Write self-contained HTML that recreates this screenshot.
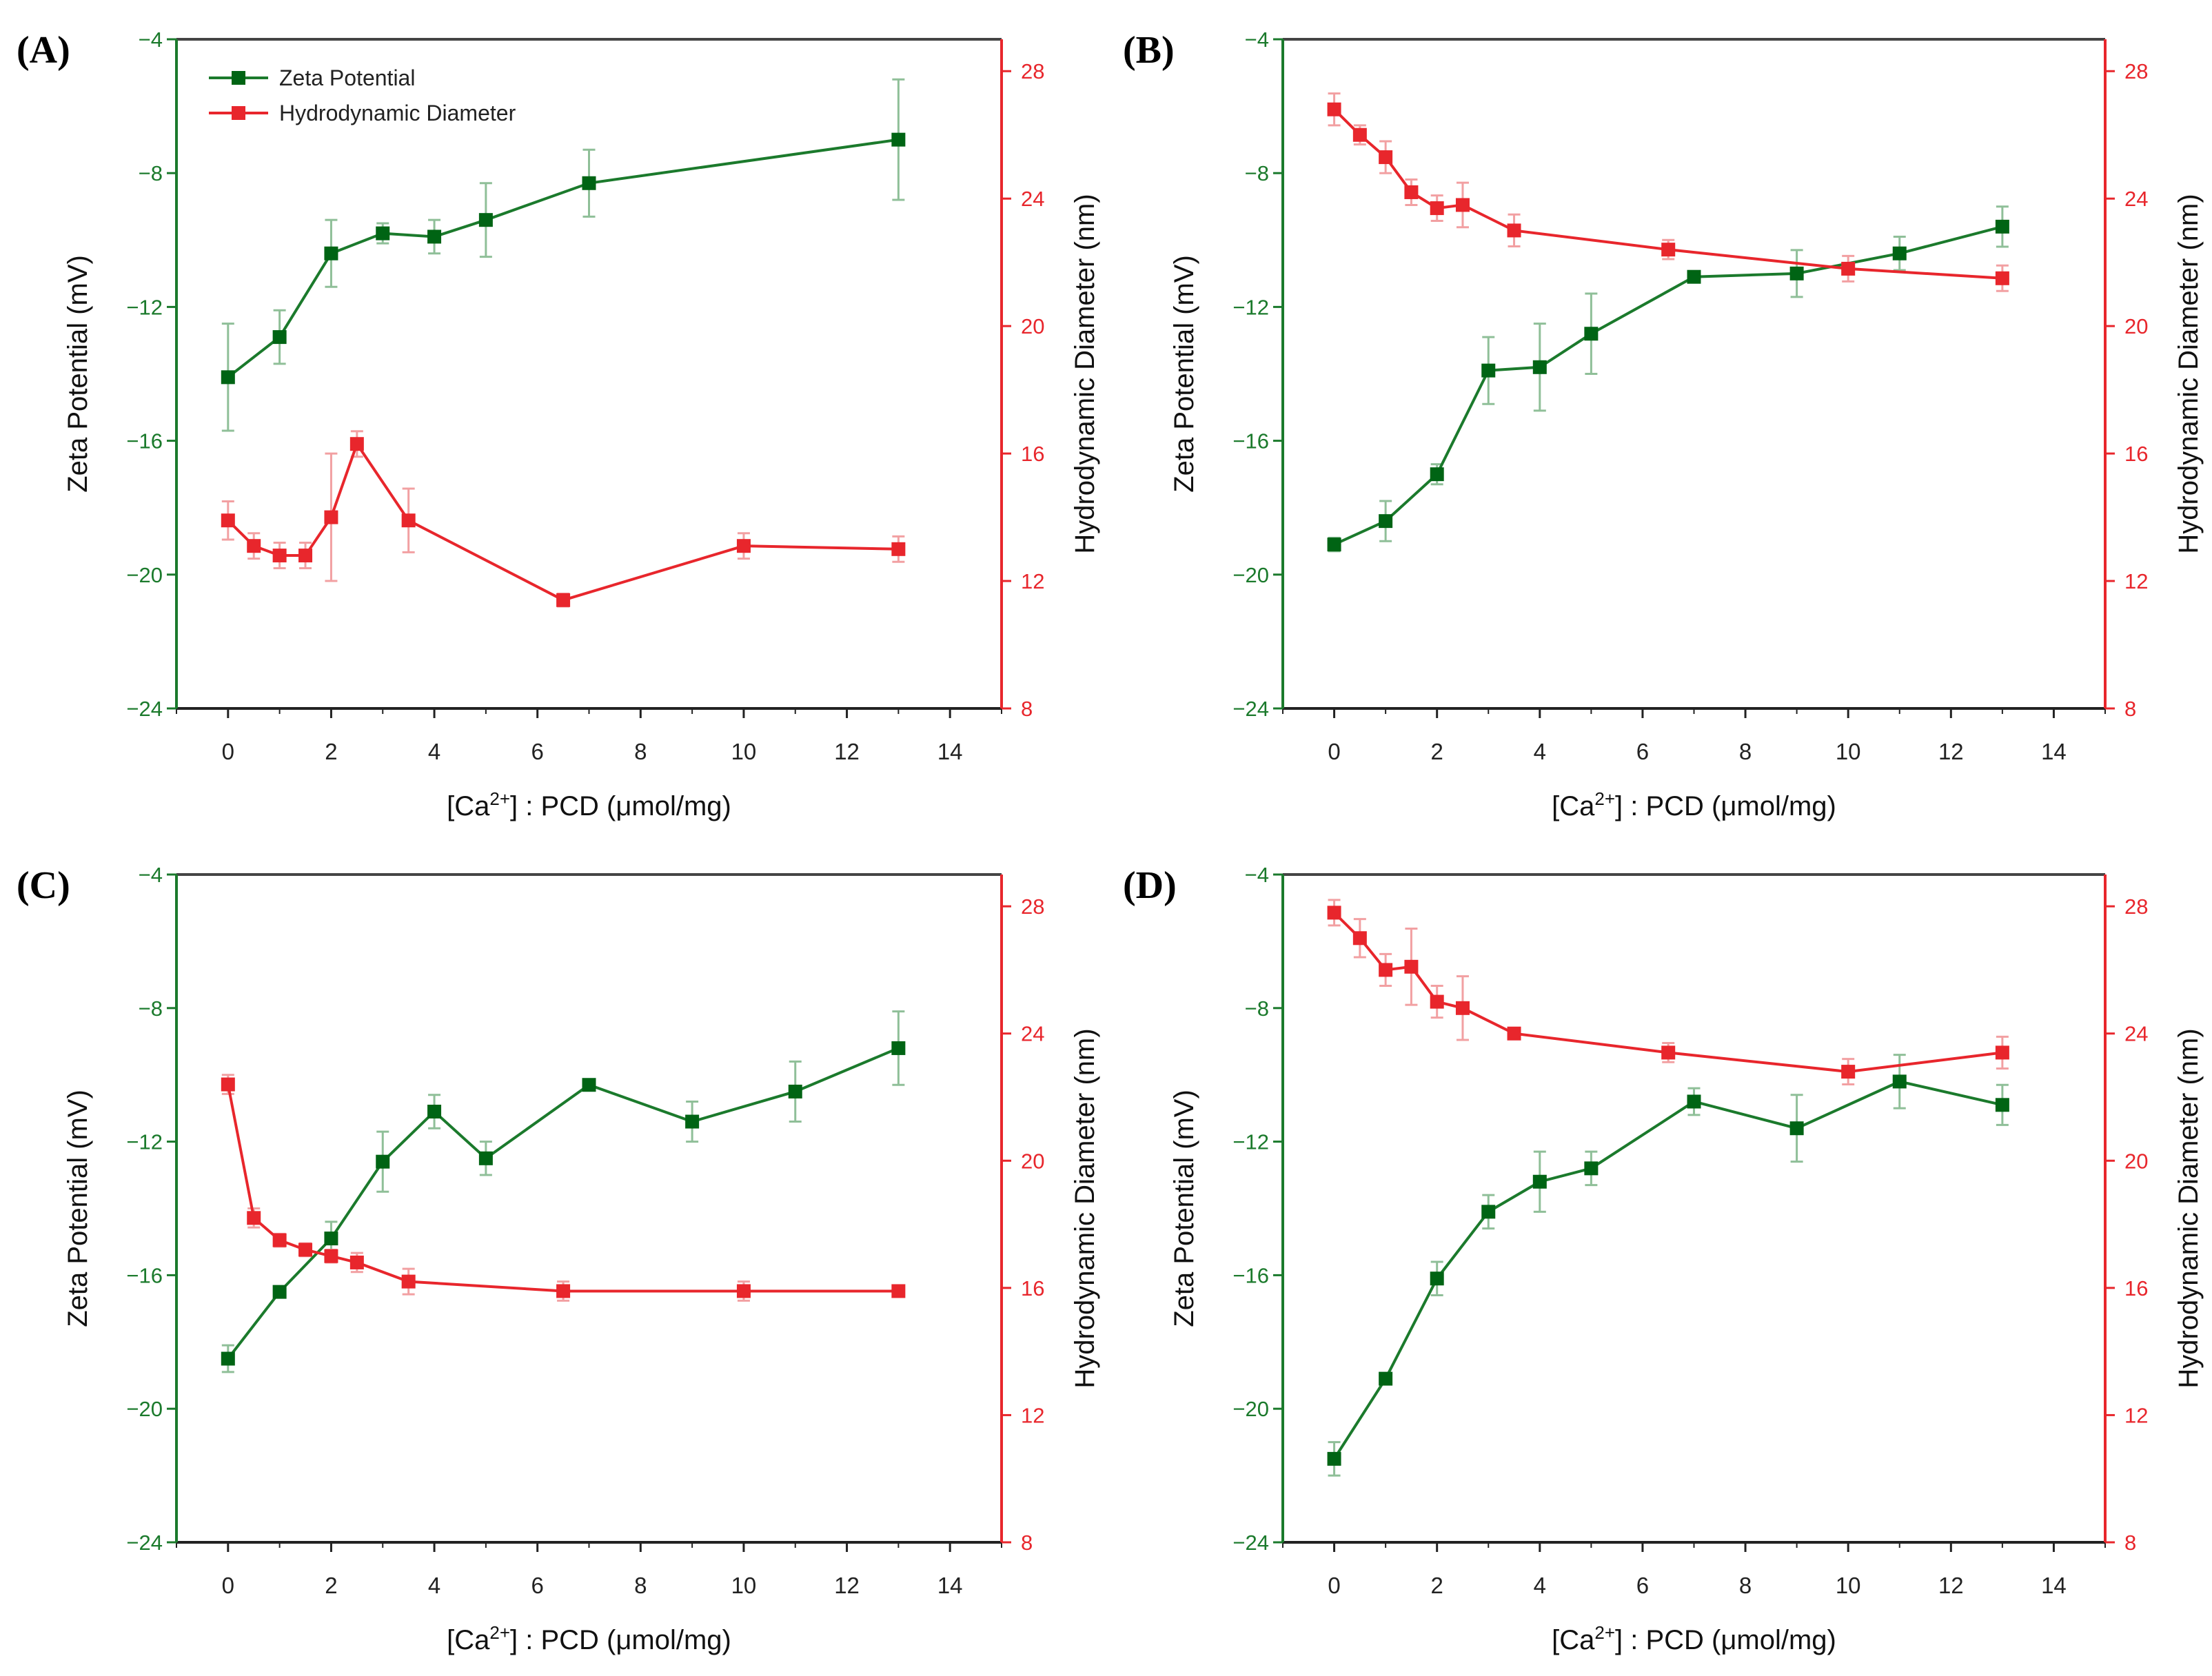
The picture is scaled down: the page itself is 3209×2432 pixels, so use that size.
<!DOCTYPE html>
<html><head><meta charset="utf-8">
<style>
html,body{margin:0;padding:0;background:#fff;}
svg{display:block;font-family:"Liberation Sans",Arial,sans-serif;}
</style></head>
<body>
<svg id="chart" width="3209" height="2432" viewBox="0 0 3209 2432" xmlns="http://www.w3.org/2000/svg"></svg>
<script>
// ---- data ----
const panelLabels = ["(A)","(B)","(C)","(D)"];
const zetaXA = [0,1,2,3,4,5,7,13];
const zetaYA = [-14.1,-12.9,-10.4,-9.8,-9.9,-9.4,-8.3,-7.0];
const zetaEA = [1.6,0.8,1.0,0.3,0.5,1.1,1.0,1.8];
const hdXA = [0,0.5,1,1.5,2,2.5,3.5,6.5,10,13];
const hdYA = [13.9,13.1,12.8,12.8,14.0,16.3,13.9,11.4,13.1,13.0];
const hdEA = [0.6,0.4,0.4,0.4,2.0,0.4,1.0,0.2,0.4,0.4];

const zetaXB = [0,1,2,3,4,5,7,9,11,13];
const zetaYB = [-19.1,-18.4,-17.0,-13.9,-13.8,-12.8,-11.1,-11.0,-10.4,-9.6];
const zetaEB = [0.2,0.6,0.3,1.0,1.3,1.2,0.1,0.7,0.5,0.6];
const hdXB = [0,0.5,1,1.5,2,2.5,3.5,6.5,10,13];
const hdYB = [26.8,26.0,25.3,24.2,23.7,23.8,23.0,22.4,21.8,21.5];
const hdEB = [0.5,0.3,0.5,0.4,0.4,0.7,0.5,0.3,0.4,0.4];

const zetaXC = [0,1,2,3,4,5,7,9,11,13];
const zetaYC = [-18.5,-16.5,-14.9,-12.6,-11.1,-12.5,-10.3,-11.4,-10.5,-9.2];
const zetaEC = [0.4,0.1,0.5,0.9,0.5,0.5,0.1,0.6,0.9,1.1];
const hdXC = [0,0.5,1,1.5,2,2.5,3.5,6.5,10,13];
const hdYC = [22.4,18.2,17.5,17.2,17.0,16.8,16.2,15.9,15.9,15.9];
const hdEC = [0.3,0.3,0.2,0.2,0.2,0.3,0.4,0.3,0.3,0.1];

const zetaXD = [0,1,2,3,4,5,7,9,11,13];
const zetaYD = [-21.5,-19.1,-16.1,-14.1,-13.2,-12.8,-10.8,-11.6,-10.2,-10.9];
const zetaED = [0.5,0.1,0.5,0.5,0.9,0.5,0.4,1.0,0.8,0.6];
const hdXD = [0,0.5,1,1.5,2,2.5,3.5,6.5,10,13];
const hdYD = [27.8,27.0,26.0,26.1,25.0,24.8,24.0,23.4,22.8,23.4];
const hdED = [0.4,0.6,0.5,1.2,0.5,1.0,0.1,0.3,0.4,0.5];

const xTicks = [0,2,4,6,8,10,12,14];
const zetaTicks = [-4,-8,-12,-16,-20,-24];
const hdTicks = [8,12,16,20,24,28];

const panels = [
 {zx:zetaXA,zy:zetaYA,ze:zetaEA,hx:hdXA,hy:hdYA,he:hdEA,L:256,R:1453,T:57,B:1028,legend:true},
 {zx:zetaXB,zy:zetaYB,ze:zetaEB,hx:hdXB,hy:hdYB,he:hdEB,L:1861,R:3054,T:57,B:1028},
 {zx:zetaXC,zy:zetaYC,ze:zetaEC,hx:hdXC,hy:hdYC,he:hdEC,L:256,R:1453,T:1269,B:2238},
 {zx:zetaXD,zy:zetaYD,ze:zetaED,hx:hdXD,hy:hdYD,he:hdED,L:1861,R:3054,T:1269,B:2238}
];
const GREEN="#1b7a2c", GREENM="#006414", GREENE="#8fbf98", RED="#e8262c", REDE="#f2a0a2";
const NS="http://www.w3.org/2000/svg";
const svg=document.getElementById('chart');
function mk(tag,attrs,parent){const e=document.createElementNS(NS,tag);for(const k in attrs)e.setAttribute(k,attrs[k]);(parent||svg).appendChild(e);return e;}

panels.forEach((p,i)=>{
 const g=mk('g',{});
 
 
 const sx=v=>p.L+(v+1)/16*(p.R-p.L);
 const sz=v=>p.T+(-4-v)/20*(p.B-p.T);
 const sh=v=>p.B-(v-8)/21*(p.B-p.T);
 // axes
 let a=mk('line',{x1:p.L,y1:p.T,x2:p.R,y2:p.T,stroke:"#444","stroke-width":4},g);
 
 a=mk('line',{x1:p.L,y1:p.B,x2:p.R,y2:p.B,stroke:"#222","stroke-width":4},g);
 
 a=mk('line',{x1:p.L,y1:p.T,x2:p.L,y2:p.B,stroke:GREEN,"stroke-width":4},g);
 
 a=mk('line',{x1:p.R,y1:p.T,x2:p.R,y2:p.B,stroke:RED,"stroke-width":4},g);
 
 xTicks.forEach(v=>{
  mk('line',{x1:sx(v),y1:p.B,x2:sx(v),y2:p.B+14,stroke:"#222","stroke-width":3},g);
  const t=mk('text',{x:sx(v),y:p.B+74,"font-size":33,fill:"#222","text-anchor":"middle"},g);
  t.textContent=v;
  
 });
 for(let v=-1;v<=15;v+=2) mk('line',{x1:sx(v),y1:p.B,x2:sx(v),y2:p.B+8,stroke:"#222","stroke-width":2},g);
 zetaTicks.forEach(v=>{
  mk('line',{x1:p.L-14,y1:sz(v),x2:p.L,y2:sz(v),stroke:GREEN,"stroke-width":3},g);
  const t=mk('text',{x:p.L-20,y:sz(v)+11,"font-size":31,fill:GREEN,"text-anchor":"end"},g);
  t.textContent=v<0?'\u2212'+(-v):v;
  
 });
 hdTicks.forEach(v=>{
  mk('line',{x1:p.R,y1:sh(v),x2:p.R+14,y2:sh(v),stroke:RED,"stroke-width":3},g);
  const t=mk('text',{x:p.R+28,y:sh(v)+11,"font-size":31,fill:RED},g);
  t.textContent=v;
  
 });
 // titles
 let cy=(p.T+p.B)/2;
 let t=mk('text',{x:0,y:0,"font-size":40,fill:"#111","text-anchor":"middle",transform:`translate(${p.L-130},${cy}) rotate(-90)`},g);
 t.textContent='Zeta Potential (mV)';
 t=mk('text',{x:0,y:0,"font-size":40,fill:"#111","text-anchor":"middle",transform:`translate(${p.R+134},${cy}) rotate(-90)`},g);
 t.textContent='Hydrodynamic Diameter (nm)';
 t=mk('text',{x:(p.L+p.R)/2,y:p.B+155,"font-size":40,fill:"#111","text-anchor":"middle"},g);
 t.innerHTML='[Ca<tspan baseline-shift="super" font-size="26">2+</tspan>] : PCD (\u03bcmol/mg)';
 
 t=mk('text',{x:p.L-232,y:p.T+34,"font-size":56,"font-weight":"bold","font-family":"Liberation Serif, serif",fill:"#000"},g);
 t.textContent=panelLabels[i];
 // series
 function series(xs,ys,es,fx,fy,lc,mc,ec,name){
  const sg=mk('g',{},g);
  
  xs.forEach((x,k)=>{
   const X=fx(x),y1=fy(ys[k]-es[k]),y2=fy(ys[k]+es[k]);
   mk('line',{x1:X,y1:y1,x2:X,y2:y2,stroke:ec,"stroke-width":3},sg);
   mk('line',{x1:X-9,y1:y1,x2:X+9,y2:y1,stroke:ec,"stroke-width":3},sg);
   mk('line',{x1:X-9,y1:y2,x2:X+9,y2:y2,stroke:ec,"stroke-width":3},sg);
  });
  mk('polyline',{points:xs.map((x,k)=>fx(x)+','+fy(ys[k])).join(' '),fill:"none",stroke:lc,"stroke-width":4},sg);
  xs.forEach((x,k)=>{
   const m=mk('rect',{x:fx(x)-10,y:fy(ys[k])-10,width:20,height:20,fill:mc},sg);
   
  });
 }
 series(p.zx,p.zy,p.ze,sx,sz,GREEN,GREENM,GREENE,'zeta-series');
 series(p.hx,p.hy,p.he,sx,sh,RED,RED,REDE,'diameter-series');
 if(p.legend){
  const lg=mk('g',{},g);
  
  [['Zeta Potential',GREEN,GREENM,113],['Hydrodynamic Diameter',RED,RED,164]].forEach(e=>{
   mk('line',{x1:303,y1:e[3],x2:389,y2:e[3],stroke:e[1],"stroke-width":4},lg);
   mk('rect',{x:336,y:e[3]-10,width:20,height:20,fill:e[2]},lg);
   const lt=mk('text',{x:405,y:e[3]+11,"font-size":32,fill:"#222"},lg);
   lt.textContent=e[0];
   
  });
 }
});
</script>
</body></html>
